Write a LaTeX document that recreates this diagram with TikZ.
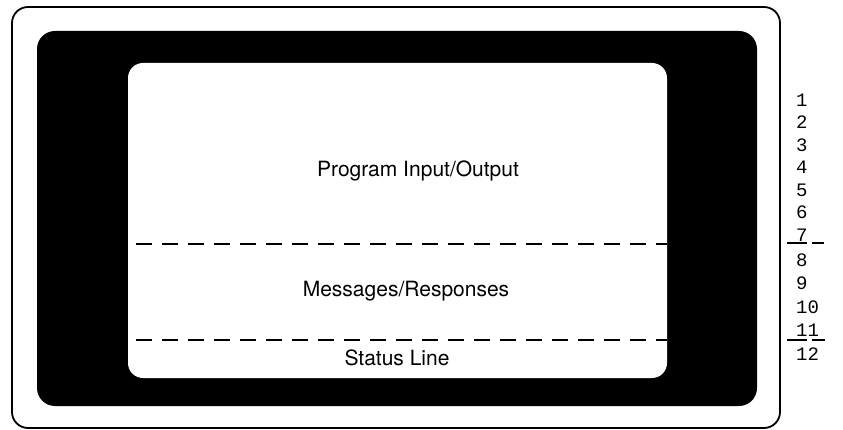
\documentclass[tikz,border=0pt]{standalone}
\usepackage{fontspec}
\setmainfont{TeX Gyre Heros}
\newfontfamily\termfont{Liberation Mono}
\usetikzlibrary{positioning,calc}
\tikzset{
  frame/.style={draw, line width=1.8pt, rounded corners=16pt},
  screen/.style={fill=black, rounded corners=18pt},
  area/.style={fill=white, rounded corners=15pt},
  divider/.style={line width=1.5pt, dash pattern=on 16pt off 10pt, dash phase=18pt},
  rowmark/.style={line width=1.2pt, dash pattern=on 20pt off 5pt},
  label/.style={font=\fontsize{21}{25}\selectfont, inner sep=0pt, anchor=base},
  row/.style={font=\termfont\fontsize{19}{22}\selectfont, anchor=west, inner sep=0pt}}
\begin{document}
\begin{tikzpicture}[x=1pt, y=-1pt]
  \useasboundingbox (0,0) rectangle (843,430);
  % terminal housing, screen and usable area
  \draw[frame] (12,7) rectangle (780,428);
  \fill[screen] (37,31) rectangle (757,406);
  \fill[area] (128,63) rectangle (667,378);
  % area dividers
  \coordinate (d1w) at (128,244); \coordinate (d1e) at (667,244);
  \coordinate (d2w) at (128,340); \coordinate (d2e) at (667,340);
  \draw[divider] (d1w) -- (d1e);
  \draw[divider] (d2w) -- (d2e);
  % area labels
  \node[label] (pio) at (418,177) {Program Input/Output};
  \node[label] (msg) at (406,297) {Messages/Responses};
  \node[label] (stat) at (397,365) {Status Line};
  % line numbers
  \foreach \n in {1,...,7}
    \node[row] (r\n) at (796,{100+22.5*(\n-1)}) {\n};
  \foreach \n in {8,...,12}
    \node[row] (r\n) at (796,{260+23.5*(\n-8)}) {\n};
  \coordinate (m1w) at (787,243); \coordinate (m1e) at (824,243);
  \coordinate (m2w) at (787,340); \coordinate (m2e) at (825,340);
  \draw[rowmark] (m1w) -- (m1e);
  \draw[rowmark] (m2w) -- (m2e);
\end{tikzpicture}
\end{document}
